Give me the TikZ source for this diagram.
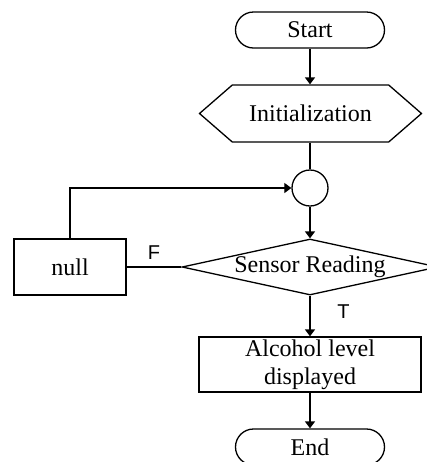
\documentclass[tikz,border=0pt]{standalone}
\usepackage{fontspec}
\setmainfont{Liberation Serif}
\setsansfont{Liberation Sans}
\usetikzlibrary{shapes.geometric, shapes.symbols, arrows.meta}

\begin{document}
\begin{tikzpicture}[x=0.5pt, y=-0.5pt, line width=0.65pt,
    font=\fontsize{12}{14}\selectfont,
    terminal/.style={draw, rounded corners=9pt, minimum width=74.5pt, minimum height=18pt, inner sep=0pt},
    prep/.style={draw, signal, signal to=west and east, signal pointer angle=82, minimum width=111pt, minimum height=28.5pt, inner sep=0pt},
    process/.style={draw, minimum height=28pt, inner sep=0pt, align=center},
    decision/.style={draw, diamond, aspect=4.57, minimum width=128pt, minimum height=28pt, inner sep=0pt},
    branch/.style={font=\sffamily\fontsize{10}{12}\selectfont},
    flow/.style={-{Triangle[length=3.5pt, width=5pt]}}]
    \useasboundingbox (0, 0) rectangle (427, 462);

    \node[terminal] (start) at (310, 30) {Start};
    \node[prep] (init) at (310.5, 113.5) {Initialization};
    \node[draw, circle, minimum size=18pt, inner sep=0pt] (join) at (310, 188) {};
    \node[decision] (sense) at (310, 267) {Sensor Reading};
    \node[process, minimum width=56pt] (null) at (70, 267) {null};
    \node[process, minimum width=111pt, minimum height=27.5pt] (show) at (310, 364.5) {Alcohol level\\displayed};
    \node[terminal] (end) at (310, 447) {End};

    \draw[flow] (start) -- (start |- init.north);
    \draw (join |- init.south) -- (join);
    \draw[flow] (join) -- (sense);
    \draw (sense.west) -- node[above, branch] {F} (null.east);
    \draw[flow] (null.north) |- (join.west);
    \draw[flow] (sense) -- node[right, branch, xshift=10pt, pos=0.4] {T} (show);
    \draw[flow] (show) -- (end);
\end{tikzpicture}
\end{document}
